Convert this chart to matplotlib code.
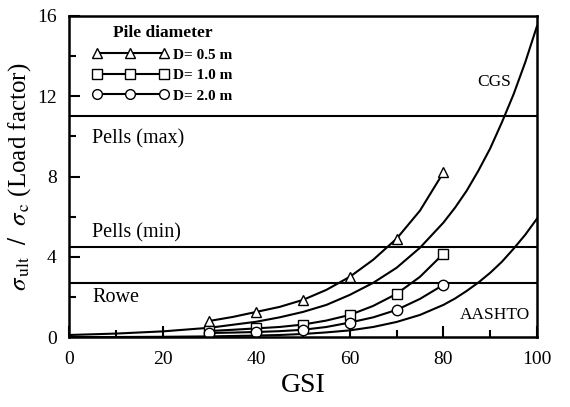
import matplotlib
matplotlib.use('Agg')
import matplotlib.pyplot as plt
from matplotlib.ticker import MultipleLocator

plt.rcParams['font.family'] = ['Liberation Serif', 'DejaVu Serif']
plt.rcParams['mathtext.fontset'] = 'stix'

# measured points (GSI vs load factor) for each pile diameter
gsi_pts = [30, 40, 50, 60, 70, 80]
d05 = [0.8, 1.25, 1.85, 3.0, 4.9, 8.2]
d10 = [0.3, 0.45, 0.6, 1.1, 2.15, 4.15]
d20 = [0.2, 0.25, 0.35, 0.72, 1.35, 2.6]

# fitted curves
gsi_fit = [30, 35, 40, 45, 50, 55, 60, 65, 70, 75, 80]
fit05 = [0.8, 1.0, 1.25, 1.5, 1.85, 2.35, 3.0, 3.85, 4.9, 6.3, 8.2]
fit10 = [0.3, 0.36, 0.43, 0.5, 0.62, 0.82, 1.1, 1.55, 2.15, 3.0, 4.15]
fit20 = [0.2, 0.22, 0.25, 0.29, 0.36, 0.5, 0.72, 0.98, 1.35, 1.9, 2.6]

gsi_full = [0, 10, 20, 30, 40, 45, 50, 55, 60, 65, 70, 75, 80, 82.5, 85, 87.5, 90, 92.5, 95, 97.5, 100]
cgs = [0.1, 0.17, 0.28, 0.46, 0.76, 0.98, 1.25, 1.6, 2.1, 2.7, 3.45, 4.45, 5.7,
       6.45, 7.3, 8.3, 9.4, 10.7, 12.1, 13.7, 15.5]
aashto = [0.0, 0.0, 0.01, 0.03, 0.07, 0.1, 0.15, 0.23, 0.33, 0.5, 0.75, 1.1, 1.6,
          1.92, 2.3, 2.72, 3.2, 3.75, 4.4, 5.1, 5.9]

pells_max = 11.0
pells_min = 4.5
rowe = 2.7

fig = plt.figure(figsize=(5.7, 4.07), dpi=100)
ax = fig.add_axes([69/570, 70/407, 468/570, 321/407])

lw = 1.5
ax.axhline(pells_max, color='black', lw=lw)
ax.axhline(pells_min, color='black', lw=lw)
ax.axhline(rowe, color='black', lw=lw)

ax.plot(gsi_full, cgs, color='black', lw=lw)
ax.plot(gsi_full, aashto, color='black', lw=lw)

ax.plot(gsi_fit, fit05, color='black', lw=lw)
ax.plot(gsi_fit, fit10, color='black', lw=lw)
ax.plot(gsi_fit, fit20, color='black', lw=lw)

ms = 7.5
ax.plot(gsi_pts, d05, '^', mfc='white', mec='black', mew=1.0, ms=ms, ls='none')
ax.plot(gsi_pts, d10, 's', mfc='white', mec='black', mew=1.0, ms=ms, ls='none')
ax.plot(gsi_pts, d20, 'o', mfc='white', mec='black', mew=1.0, ms=ms, ls='none')

# legend handles
lms = 7
h1, = ax.plot([], [], '-^', color='black', mfc='white', mec='black', ms=lms, lw=lw, label='D= 0.5 m')
h2, = ax.plot([], [], '-s', color='black', mfc='white', mec='black', ms=lms, lw=lw, label='D= 1.0 m')
h3, = ax.plot([], [], '-o', color='black', mfc='white', mec='black', ms=lms, lw=lw, label='D= 2.0 m')
leg = ax.legend(handles=[h1, h2, h3], title='Pile diameter', loc='upper left',
                bbox_to_anchor=(0.02, 1.015), numpoints=3, handlelength=5.0,
                handletextpad=0.3, labelspacing=0.45, frameon=False,
                prop={'size': 11, 'weight': 'bold'})
leg.get_title().set_fontsize(12.5)
leg.get_title().set_fontweight('bold')

ax.text(5, 9.9, 'Pells (max)', fontsize=14.5, va='center')
ax.text(5, 5.2, 'Pells (min)', fontsize=14.5, va='center')
ax.text(5, 1.95, 'Rowe', fontsize=14.5, va='center')
ax.text(94.5, 12.7, 'CGS', fontsize=12.5, va='center', ha='right')
ax.text(98.5, 1.1, 'AASHTO', fontsize=12.5, va='center', ha='right')

ax.set_xlim(0, 100)
ax.set_ylim(0, 16)
ax.xaxis.set_major_locator(MultipleLocator(20))
ax.xaxis.set_minor_locator(MultipleLocator(10))
ax.yaxis.set_major_locator(MultipleLocator(4))
ax.yaxis.set_minor_locator(MultipleLocator(2))
ax.tick_params(which='both', direction='in', width=1.5, labelsize=14)
ax.tick_params(axis='x', which='major', length=8, pad=10)
ax.tick_params(axis='y', which='major', length=8, pad=9)
ax.tick_params(which='minor', length=5)
for s in ax.spines.values():
    s.set_linewidth(1.8)

ax.set_xlabel('GSI', fontsize=20, labelpad=4)
ax.set_ylabel(r'$\sigma_{\,\rm ult}\ \ /\ \ \sigma_{\,\rm c}$ (Load factor)', fontsize=18, labelpad=3)

fig.savefig('out.png', dpi=100)
